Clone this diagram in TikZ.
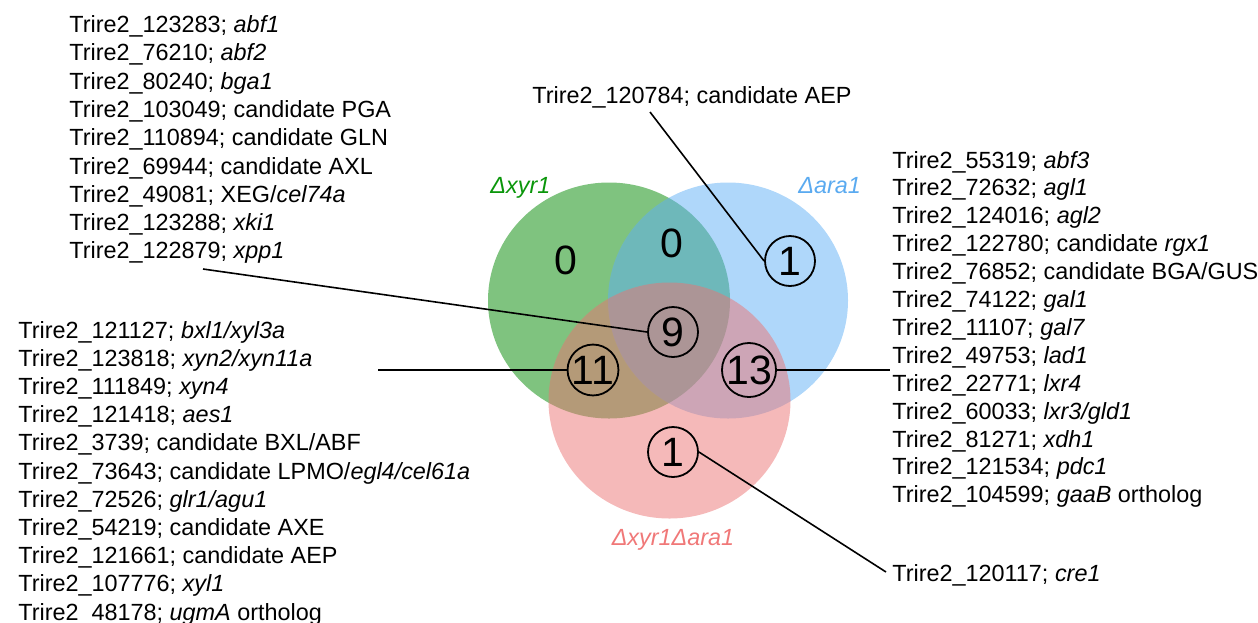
\documentclass[tikz,border=0pt]{standalone}
\usepackage{fontspec}
\setmainfont{Liberation Sans}
\definecolor{vgreen}{RGB}{0,135,0}
\definecolor{vblue}{RGB}{95,175,245}
\definecolor{vpink}{RGB}{235,115,115}
\definecolor{tgreen}{RGB}{10,150,10}
\definecolor{tblue}{RGB}{90,170,240}
\definecolor{tpink}{RGB}{240,120,120}
\tikzset{
  lst/.style={anchor=base west, inner sep=0pt, font=\fontsize{11.7pt}{14pt}\selectfont},
  setlbl/.style={anchor=base west, inner sep=0pt, font=\fontsize{11.7pt}{14pt}\selectfont\itshape},
  numc/.style={circle, draw, line width=0.9pt, minimum size=25pt, inner sep=0pt, font=\fontsize{20.5pt}{24pt}\selectfont},
  numz/.style={inner sep=0pt, font=\fontsize{20.5pt}{24pt}\selectfont},
  conn/.style={line width=0.8pt},
}
\begin{document}
\begin{tikzpicture}[x=0.5pt, y=-0.5pt]
\useasboundingbox (0,0) rectangle (1258,622);
% Venn sets
\fill[vgreen, opacity=0.5] (609,300.5) ellipse [x radius=60.5pt, y radius=59pt];
\fill[vblue, opacity=0.5] (728,300.5) ellipse [x radius=60pt, y radius=59pt];
\fill[vpink, opacity=0.5] (669.5,400.5) ellipse [x radius=60.5pt, y radius=59pt];
% set labels
\node[setlbl, text=tgreen] (lg) at (490,193) {Δxyr1};
\node[setlbl, text=tblue] (lb) at (798,193) {Δara1};
\node[setlbl, text=tpink, anchor=base] (lp) at (673,545) {Δxyr1Δara1};
% numbers
\node[numz] (z1) at (566,260) {0};
\node[numz] (z2) at (672,243) {0};
\node[numc] (n1) at (790,261) {1};
\node[numc] (n9) at (673,332) {9};
\node[numc] (n11) at (593,370) {11};
\node[numc] (n13) at (749,370) {13};
\node[numc] (nb1) at (673,452) {1};
% lists
\foreach \t [count=\i] in {
  {Trire2\_123283; \textit{abf1}},
  {Trire2\_76210; \textit{abf2}},
  {Trire2\_80240; \textit{bga1}},
  {Trire2\_103049; candidate PGA},
  {Trire2\_110894; candidate GLN},
  {Trire2\_69944; candidate AXL},
  {Trire2\_49081; XEG/\textit{cel74a}},
  {Trire2\_123288; \textit{xki1}},
  {Trire2\_122879; \textit{xpp1}}}
  \node[lst] (a\i) at (69,{32.5+28.3*(\i-1)}) {\t};
\foreach \t [count=\i] in {
  {Trire2\_121127; \textit{bxl1/xyl3a}},
  {Trire2\_123818; \textit{xyn2/xyn11a}},
  {Trire2\_111849; \textit{xyn4}},
  {Trire2\_121418; \textit{aes1}},
  {Trire2\_3739; candidate BXL/ABF},
  {Trire2\_73643; candidate LPMO/\textit{egl4/cel61a}},
  {Trire2\_72526; \textit{glr1/agu1}},
  {Trire2\_54219; candidate AXE},
  {Trire2\_121661; candidate AEP},
  {Trire2\_107776; \textit{xyl1}},
  {Trire2\_48178; \textit{ugmA} ortholog}}
  \node[lst] (b\i) at (18,{338+28.2*(\i-1)}) {\t};
\foreach \t [count=\i] in {
  {Trire2\_55319; \textit{abf3}},
  {Trire2\_72632; \textit{agl1}},
  {Trire2\_124016; \textit{agl2}},
  {Trire2\_122780; candidate \textit{rgx1}},
  {Trire2\_76852; candidate BGA/GUS},
  {Trire2\_74122; \textit{gal1}},
  {Trire2\_11107; \textit{gal7}},
  {Trire2\_49753; \textit{lad1}},
  {Trire2\_22771; \textit{lxr4}},
  {Trire2\_60033; \textit{lxr3/gld1}},
  {Trire2\_81271; \textit{xdh1}},
  {Trire2\_121534; \textit{pdc1}},
  {Trire2\_104599; \textit{gaaB} ortholog}}
  \node[lst] (c\i) at (892,{168+27.9*(\i-1)}) {\t};
\node[lst] (tA) at (532,103) {Trire2\_120784; candidate AEP};
\node[lst] (tC) at (892,581) {Trire2\_120117; \textit{cre1}};
% connectors
\coordinate (pA) at (650,112);
\coordinate (pX) at (203,269);
\coordinate (pL) at (378,370);
\coordinate (pR) at (890,370);
\coordinate (pC) at (886,572);
\draw[conn] (pA) -- (n1.west);
\draw[conn] (pX) -- (n9.west);
\draw[conn] (pL) -- (n11.west);
\draw[conn] (n13.east) -- (pR);
\draw[conn] (nb1.east) -- (pC);
\end{tikzpicture}
\end{document}
